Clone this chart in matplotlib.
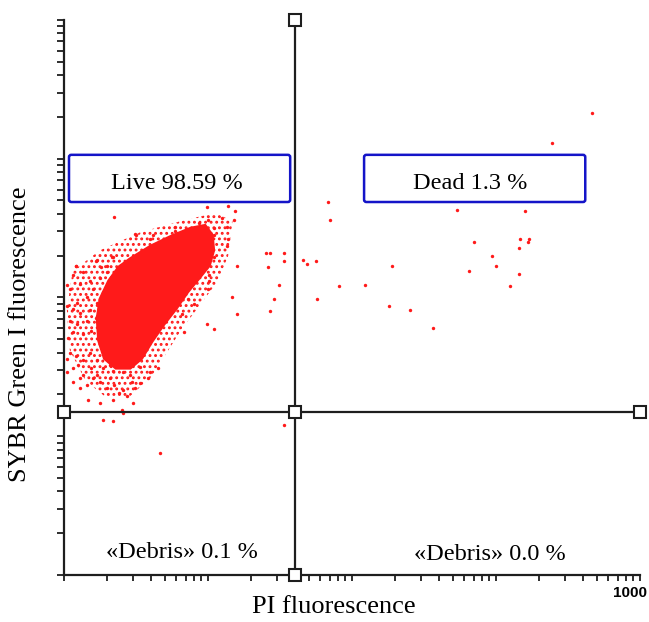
import matplotlib.pyplot as plt
import numpy as np
from matplotlib.patches import Polygon, FancyBboxPatch

# values are log10 fluorescence (decades)
# solid core of the live population (outline)
core_pi = [0.46, 0.60, 0.74, 0.88, 0.98, 1.03, 1.04, 1.01, 0.94, 0.86, 0.78, 0.69,
           0.61, 0.54, 0.46, 0.36, 0.28, 0.24, 0.23, 0.25, 0.31, 0.38]
core_sybr = [2.28, 2.37, 2.44, 2.50, 2.52, 2.45, 2.34, 2.23, 2.14, 2.04, 1.92, 1.80,
             1.68, 1.56, 1.49, 1.49, 1.56, 1.69, 1.85, 1.99, 2.12, 2.22]

# speckled halo round the core
halo_pi = [0.06, 0.25, 0.53, 0.81, 1.05, 1.17, 1.14, 1.07, 0.94, 0.81, 0.70, 0.60,
           0.46, 0.28, 0.15, 0.04, 0.02]
halo_sybr = [2.19, 2.34, 2.47, 2.55, 2.61, 2.55, 2.30, 2.12, 1.94, 1.76, 1.58, 1.42,
             1.29, 1.29, 1.40, 1.62, 1.91]

# single events
ev_pi = [
    1.83, 1.85, 1.40, 1.43, 1.53, 1.53, 1.42, 1.66, 1.69, 1.75, 1.49, 1.46, 1.43,
    1.91, 1.76, 2.09, 2.28, 2.26, 2.40, 2.56, 3.67, 3.39, 2.73, 3.20, 2.85, 3.17,
    3.23, 3.22, 3.16, 2.97, 3.00, 2.81, 3.16, 3.10, 1.53, 0.67,
    0.99, 1.14, 1.19, 1.18, 1.10, 1.00, 0.94, 1.13, 1.04, 0.77, 0.77, 0.90, 0.96,
    1.14, 1.04, 0.72, 0.68, 0.65, 1.03, 1.13, 1.04, 1.20, 0.86,
    0.35, 0.50, 0.60, 0.62, 0.34, 0.22, 0.26, 0.30, 0.08, 0.39,
    1.01, 1.01, 1.00, 1.17, 1.20, 0.99, 1.04, 0.83, 0.90, 0.86, 0.82,
    0.02, 0.02, 0.06, 0.06, 0.04, 0.10, 0.13, 0.16, 0.11, 0.20, 0.19, 0.23, 0.25,
    0.25, 0.17, 0.32, 0.30, 0.35, 0.38, 0.34, 0.41, 0.47, 0.49, 0.53, 0.58, 0.53,
    0.60, 0.65, 0.40, 0.48, 0.44, 0.11, 0.23, 0.27, 0.32, 0.34, 0.41, 0.46, 0.13,
    0.08, 0.18, 0.34, 0.27, 0.41,
    0.06, 0.13, 0.04, 0.11, 0.18, 0.20, 0.25, 0.27, 0.09, 0.16, 0.23, 0.06, 0.11,
    0.18, 0.25, 0.04, 0.09, 0.16, 0.22, 0.27, 0.06, 0.13, 0.19, 0.25, 0.30, 0.03,
    0.30, 0.28, 0.32, 0.34, 0.30, 0.02, 0.02,
    0.23, 0.33, 0.08, 0.49,
]
ev_sybr = [
    2.69, 2.56, 2.32, 2.32, 2.32, 2.26, 2.22, 2.27, 2.24, 2.26, 2.09, 1.99, 1.90,
    2.08, 1.99, 2.09, 2.23, 1.94, 1.91, 1.78, 3.33, 3.11, 2.63, 2.62, 2.40, 2.42,
    2.42, 2.40, 2.36, 2.30, 2.23, 2.19, 2.17, 2.08, 1.08, 0.88,
    2.65, 2.66, 2.62, 2.56, 2.57, 2.56, 2.54, 2.51, 2.50, 2.51, 2.48, 2.50, 2.47,
    2.42, 2.45, 2.42, 2.37, 2.38, 2.36, 2.37, 2.29, 2.23, 2.45,
    2.58, 2.45, 2.42, 2.45, 2.29, 2.26, 2.22, 2.23, 2.23, 2.23,
    2.16, 2.12, 2.06, 2.00, 1.88, 1.81, 1.77, 1.75, 1.95, 1.99, 1.88,
    1.56, 1.46, 1.39, 1.49, 1.60, 1.51, 1.44, 1.37, 1.35, 1.42, 1.49, 1.44, 1.39,
    1.24, 1.26, 1.42, 1.35, 1.37, 1.31, 1.26, 1.33, 1.39, 1.35, 1.38, 1.42, 1.50,
    1.46, 1.49, 1.19, 1.24, 1.29, 1.42, 1.55, 1.49, 1.51, 1.47, 1.46, 1.44, 1.55,
    1.58, 1.60, 1.11, 1.12, 1.17,
    2.16, 2.18, 2.06, 2.10, 2.12, 2.06, 2.14, 2.04, 1.96, 2.00, 1.96, 1.92, 1.89,
    1.91, 1.92, 1.83, 1.81, 1.83, 1.85, 1.83, 1.75, 1.74, 1.76, 1.73, 1.78, 1.71,
    1.96, 1.89, 2.09, 2.16, 2.18, 1.94, 2.09,
    2.27, 2.29, 2.23, 2.46,
]

# quadrant gates
pi_gate = 40
sybr_gate = 15

quad_labels = ['Live 98.59 %', 'Dead 1.3 %', '\u00abDebris\u00bb 0.1 %', '\u00abDebris\u00bb 0.0 %']

serif = 'Liberation Serif'
red = '#ff1a1a'
ink = '#1e1e1e'
plt.rcParams['hatch.linewidth'] = 1.3

fig = plt.figure(figsize=(6.49, 6.22), dpi=100)
ax = fig.add_axes([0.0986, 0.0756, 0.8875, 0.8923])
ax.set_xscale('log')
ax.set_yscale('log')
ax.set_xlim(1, 1e4)
ax.set_ylim(1, 1e4)

halo = Polygon(np.column_stack([10 ** np.array(halo_pi), 10 ** np.array(halo_sybr)]),
               closed=True, facecolor='none', edgecolor=red, linewidth=0, hatch='...')
ax.add_patch(halo)
core = Polygon(np.column_stack([10 ** np.array(core_pi), 10 ** np.array(core_sybr)]),
               closed=True, facecolor=red, edgecolor=red, linewidth=2)
ax.add_patch(core)
ax.scatter(10 ** np.array(ev_pi), 10 ** np.array(ev_sybr), s=6, color=red, linewidths=0)

# gate lines + handles
ax.axvline(pi_gate, color=ink, lw=1.6, zorder=3)
ax.axhline(sybr_gate, color=ink, lw=1.6, zorder=3)
ax.plot([pi_gate, 1, pi_gate, 1e4, pi_gate], [sybr_gate, sybr_gate, 1, sybr_gate, 1e4],
        ls='none', marker='s', ms=8, mfc='white', mec=ink, mew=1.5, clip_on=False, zorder=4)

# labelled boxes
for x0 in [0.0087, 0.521]:
    box = FancyBboxPatch((x0, 0.672), 0.384, 0.085, boxstyle='round,pad=0,rounding_size=0.004',
                         transform=ax.transAxes, facecolor='white', edgecolor='#1414c8',
                         linewidth=1.8, zorder=5)
    ax.add_patch(box)
ax.text(0.196, 0.706, quad_labels[0], transform=ax.transAxes, ha='center', va='center',
        family=serif, fontsize=17.5, zorder=6)
ax.text(0.705, 0.706, quad_labels[1], transform=ax.transAxes, ha='center', va='center',
        family=serif, fontsize=17.5, zorder=6)
ax.text(0.205, 0.041, quad_labels[2], transform=ax.transAxes, ha='center', va='center',
        family=serif, fontsize=17.5)
ax.text(0.740, 0.036, quad_labels[3], transform=ax.transAxes, ha='center', va='center',
        family=serif, fontsize=17.5)

for s in ['top', 'right']:
    ax.spines[s].set_visible(False)
for s in ['left', 'bottom']:
    ax.spines[s].set_linewidth(1.6)
    ax.spines[s].set_color(ink)
ax.tick_params(which='both', direction='out', color=ink, width=1.3,
               labelbottom=False, labelleft=False)
ax.tick_params(axis='y', which='both', length=5)
ax.tick_params(axis='x', which='both', length=4)

fig.text(0.515, 0.024, 'PI fluorescence', ha='center', va='center', family=serif, fontsize=19)
fig.text(0.031, 0.463, 'SYBR Green I fluorescence', ha='center', va='center',
         rotation=90, family=serif, fontsize=19)
fig.text(0.997, 0.047, '1000', ha='right', va='center', family='Liberation Sans',
         fontweight='bold', fontsize=11)

fig.savefig('out.png', dpi=100)
